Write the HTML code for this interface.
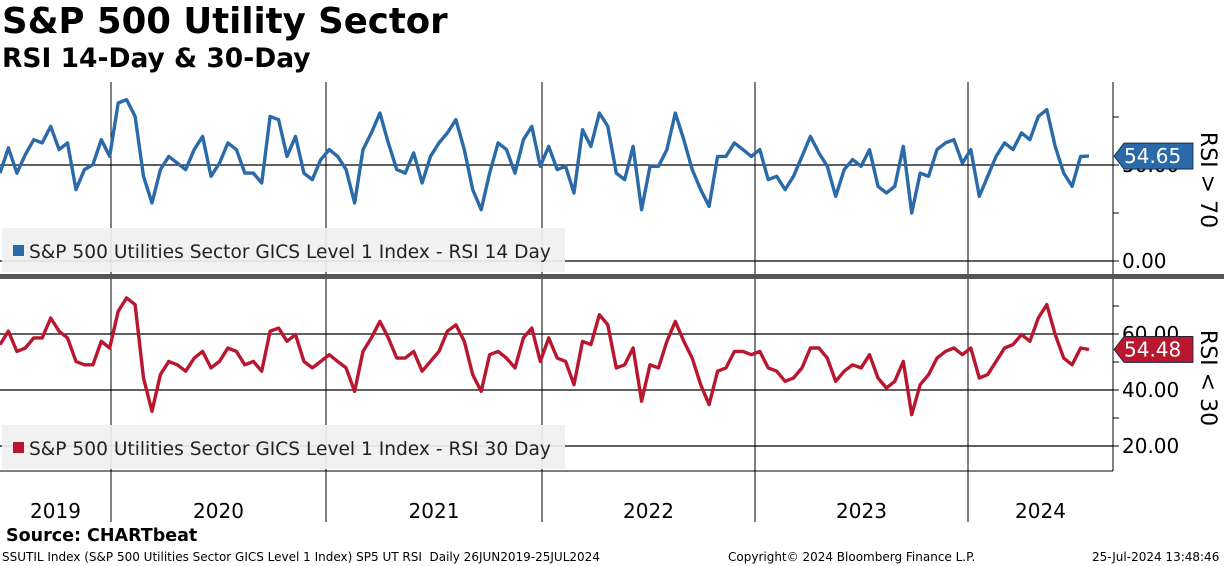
<!DOCTYPE html>
<html><head><meta charset="utf-8"><style>
body{margin:0;width:1224px;height:566px;overflow:hidden;background:#fff;font-family:"DejaVu Sans","Liberation Sans",sans-serif;}
.t{position:absolute;white-space:nowrap;color:#000}
</style></head><body>
<div class="t" style="left:2px;top:1px;font-size:35.5px;font-weight:bold;font-family:'DejaVu Sans',sans-serif">S&amp;P 500 Utility Sector</div>
<div class="t" style="left:2px;top:43px;font-size:26.5px;font-weight:bold">RSI 14-Day &amp; 30-Day</div>
<svg id="c" width="1224" height="566" style="position:absolute;left:0;top:0" font-family="DejaVu Sans, Liberation Sans, sans-serif"></svg>
<div class="t" style="left:6px;top:526px;font-size:17.5px;font-weight:bold">Source: CHARTbeat</div>
<div class="t" style="left:2px;top:550px;font-size:12px">SSUTIL Index (S&amp;P 500 Utilities Sector GICS Level 1 Index) SP5 UT RSI&nbsp; Daily 26JUN2019-25JUL2024</div>
<div class="t" style="left:728px;top:550px;font-size:12px">Copyright© 2024 Bloomberg Finance L.P.</div>
<div class="t" style="left:1092px;top:550px;font-size:12px">25-Jul-2024 13:48:46</div>
<script>
const rsi14=[45.8,58.9,45.8,55.4,63.2,61.5,70.1,58.0,61.5,37.2,47.6,50.2,63.2,54.5,82.3,84.0,75.3,44.1,30.2,47.6,54.5,51.0,47.6,58.0,64.9,44.1,51.0,61.5,58.0,45.8,45.8,40.6,75.3,73.6,54.5,64.9,45.8,42.4,52.8,58.0,54.5,47.6,30.2,58.0,66.7,77.1,61.5,47.6,45.8,56.3,40.6,54.5,61.5,66.7,73.6,58.0,37.2,26.7,45.8,61.5,58.0,45.8,63.2,70.1,49.3,
59.7,47.6,49.3,35.4,68.4,59.7,77.1,70.1,45.8,42.4,59.7,26.7,49.3,49.3,58.0,77.1,63.2,47.6,37.2,28.5,54.5,54.5,61.5,58.0,54.5,58.0,42.4,44.1,37.2,44.1,54.5,64.9,56.3,49.3,33.7,47.6,52.8,49.3,58.0,38.9,35.4,38.9,59.7,25.0,45.8,44.1,58.0,61.5,63.2,51.0,58.0,33.7,44.1,54.5,61.5,58.0,66.7,63.2,75.3,78.8,59.7,45.8,38.9,54.5,54.65];
const rsi30=[56.2,61.0,53.8,55.0,58.6,58.6,65.7,61.0,58.6,50.2,49.0,49.0,57.4,55.0,68.1,72.9,70.5,44.3,32.4,45.5,50.2,49.0,46.7,51.4,53.8,47.9,50.2,55.0,53.8,49.0,50.2,46.7,61.0,62.1,57.4,59.8,50.2,47.9,50.2,52.6,50.2,47.9,39.5,53.8,58.6,64.5,58.6,51.4,51.4,53.8,46.7,50.2,53.8,61.0,63.3,57.4,45.5,39.5,52.6,53.8,51.4,47.9,58.6,62.1,50.2,
58.6,51.4,50.2,41.9,57.4,56.2,66.9,63.3,47.9,49.0,55.0,36.0,49.0,47.9,57.4,64.5,57.4,51.4,41.9,34.8,46.7,47.9,53.8,53.8,52.6,53.8,47.9,46.7,43.1,44.3,47.9,55.0,55.0,51.4,43.1,46.7,49.0,47.9,52.6,44.3,40.7,43.1,50.2,31.2,41.9,45.5,51.4,53.8,55.0,52.6,55.0,44.3,45.5,50.2,55.0,56.2,59.8,57.4,65.7,70.5,59.8,51.4,49.0,55.0,54.48];
const years=["2019","2020","2021","2022","2023","2024"];
const topTicks=[0,50];
const botTicks=[20,40,60];
const svg=document.getElementById('c');const NS='http://www.w3.org/2000/svg';
function mk(t,a,p){const e=document.createElementNS(NS,t);for(const k in a)e.setAttribute(k,a[k]);(p||svg).appendChild(e);return e;}
const X=i=>i*1089/(rsi14.length-1);
const yTop=v=>261-v*1.92;
const yBot=v=>446-(v-20)*2.8;
const RX=1113;
const yearX=[111,326,542,755,968];
yearX.forEach((x,i)=>{const l=mk('line',{x1:x,y1:82,x2:x,y2:522,stroke:'#000','stroke-width':1});
});
const bounds=[0].concat(yearX,[RX]);
years.forEach((y,i)=>{const t=mk('text',{x:(bounds[i]+bounds[i+1])/2,y:518,'font-size':20,'text-anchor':'middle'});t.textContent=y;
});
function legend(y,color,text,name){const g=mk('g',{});
mk('rect',{x:2,y:y,width:563,height:44,fill:'#f0f0f0','fill-opacity':0.92},g);
mk('rect',{x:13,y:y+17,width:11,height:11,fill:color},g);
const t=mk('text',{x:29,y:y+30,'font-size':18.6,fill:'#222'},g);t.textContent=text;}
topTicks.forEach(v=>{const l=mk('line',{x1:0,y1:yTop(v),x2:RX,y2:yTop(v),stroke:'#000','stroke-width':1.2});});
botTicks.forEach(v=>{const l=mk('line',{x1:0,y1:yBot(v),x2:RX,y2:yBot(v),stroke:'#000','stroke-width':1.2});});
legend(228,'#2a6aa8','S&P 500 Utilities Sector GICS Level 1 Index - RSI 14 Day','legend-rsi-14');
legend(425,'#b8172f','S&P 500 Utilities Sector GICS Level 1 Index - RSI 30 Day','legend-rsi-30');
function path(arr,yf,color,name){const d=arr.map((v,i)=>(i?'L':'M')+X(i).toFixed(1)+' '+yf(v).toFixed(1)).join('');
const p=mk('path',{d:d,fill:'none',stroke:color,'stroke-width':3.4,'stroke-linejoin':'round'});}
path(rsi14,yTop,'#2a6aa8','rsi-14-line');
path(rsi30,yBot,'#b8172f','rsi-30-line');
mk('line',{x1:RX,y1:82,x2:RX,y2:471,stroke:'#000','stroke-width':1});
mk('line',{x1:0,y1:471,x2:RX,y2:471,stroke:'#000','stroke-width':1});
const sep=mk('rect',{x:0,y:274,width:1224,height:5,fill:'#555'});
[0,25,50,75].forEach(v=>mk('line',{x1:RX,y1:yTop(v),x2:RX+6,y2:yTop(v),stroke:'#000'}));
[20,30,40,50,60,70].forEach(v=>mk('line',{x1:RX,y1:yBot(v),x2:RX+6,y2:yBot(v),stroke:'#000'}));
topTicks.forEach(v=>{const t=mk('text',{x:1122,y:yTop(v)+7,'font-size':20});t.textContent=v.toFixed(2);});
botTicks.forEach(v=>{const t=mk('text',{x:1122,y:yBot(v)+7,'font-size':20});t.textContent=v.toFixed(2);});
function tag(v,yf,color,name){const y=yf(v);const g=mk('g',{});
mk('path',{d:`M1114 ${y} L1124 ${y-13} L1193 ${y-13} L1193 ${y+13} L1124 ${y+13} Z`,fill:color,stroke:'#123','stroke-width':0.8},g);
const t=mk('text',{x:1124,y:y+7,'font-size':20,fill:'#fff'},g);t.textContent=v.toFixed(2);}
tag(rsi14[rsi14.length-1],yTop,'#2a6aa8','rsi-14-last-value-tag');
tag(rsi30[rsi30.length-1],yBot,'#b8172f','rsi-30-last-value-tag');
function rot(y,text,name){const t=mk('text',{x:0,y:0,'font-size':22,'text-anchor':'middle',transform:`translate(1201 ${y}) rotate(90)`});t.textContent=text;}
rot(180,'RSI > 70','top-axis-title');
rot(378,'RSI < 30','bottom-axis-title');
</script>
</body></html>
